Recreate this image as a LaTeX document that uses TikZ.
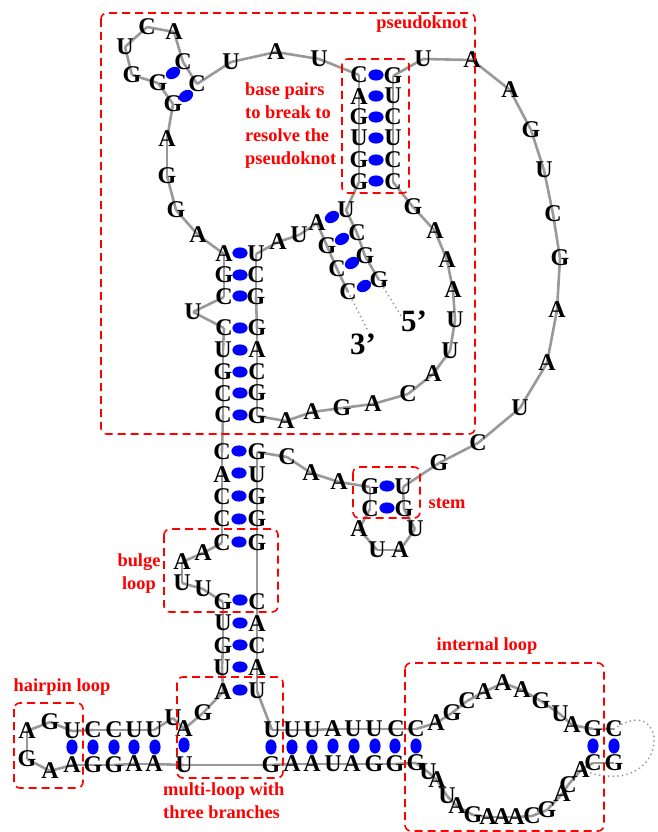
\documentclass[tikz,border=0pt]{standalone}
\usepackage{fontspec}
\setmainfont{Liberation Serif}
\usetikzlibrary{backgrounds}
\tikzset{
  nt/.style={inner sep=0pt,outer sep=0pt,text height=15.8pt,text depth=0pt,anchor=center,black,font=\fontsize{24}{24}\bfseries\selectfont},
  bb/.style={draw=black!40,line width=2.6pt},
  dotline/.style={draw=black!40,line width=2pt,line cap=round,dash pattern=on 0pt off 4.6pt},
  redbox/.style={draw=red,line width=1.6pt,dash pattern=on 8pt off 5pt,rounded corners=6pt},
  redlabel/.style={inner sep=0pt,text=red,font=\fontsize{18.4}{23}\bfseries\selectfont},
  endlabel/.style={inner sep=0pt,text=black,font=\fontsize{31}{31}\bfseries\selectfont},
}
\newcommand{\bpair}[3]{\fill[blue,shift={(#1,#2)},rotate=#3] (0,0) ellipse[x radius=7.6pt,y radius=5.6pt];}
\begin{document}
\begin{tikzpicture}[x=1pt,y=-1pt]
\useasboundingbox (0,0) rectangle (658,832);
\begin{pgfonlayer}{background}
\fill[white] (0,0) rectangle (658,832);
\end{pgfonlayer}
% chain from the 5' end to the closing pair
\foreach \ltr/\x/\y [count=\i, remember=\i as \p (initially 0)] in {
G/379/280,G/365/256,C/357/233,U/346/210,G/359/182,G/359/160,U/359/138,G/359/117,A/359/97,C/359/75,
U/319/59,A/276/52,U/231/62,C/197/84,C/183/62,A/174/32,C/147/27,U/125/47,G/132/75,G/158/83,G/173/104,
A/167/139,G/167/176,G/176/210,A/198/235,A/224/254,G/224/275,C/224/297,U/193/312,C/224/328,U/223/350,
G/223/372,C/223/394,C/223/415,C/222/452,A/222/475,C/222/497,C/222/519,C/222/543,A/203/553,A/182/562,
U/182/583,U/203/589,G/223/602,U/223/623,G/223/646,U/222/668,A/223/692,G/203/713,A/184/729,U/173/718,
U/154/730,U/134/730,C/114/730,C/93/730,U/72/731,G/50/722,A/27/731,G/27/759,A/50/771,A/72/765,G/93/765,
G/114/765,A/134/764,A/154/764,U/184/765,G/271/765,A/292/764,A/312/764,U/333/764,A/352/764,G/374/764,
G/395/764,G/416/763,U/428/772,A/437/780,U/447/796,A/457/806,G/473/815,A/488/817,A/502/817,A/516/817,
C/532/816,G/547/810,A/562/794,C/568/785,A/581/770,C/593/763,G/614/763}{
  \node[nt] (a\i) at (\x,\y) {\ltr};
  \ifnum\i>1
    \begin{pgfonlayer}{background}\draw[bb] (a\p.center) -- (a\i.center);\end{pgfonlayer}
  \fi
}
% chain from the closing pair to the 3' end
\foreach \ltr/\x/\y [count=\i, remember=\i as \p (initially 0)] in {
C/614/729,G/593/729,A/572/725,U/560/714,G/541/701,A/522/690,A/503/683,A/484/692,C/467/701,G/452/713,
A/436/723,C/416/729,C/396/729,U/374/729,U/353/729,A/333/729,U/312/730,U/292/730,U/272/730,U/257/691,
A/257/668,C/257/646,A/257/624,C/257/602,G/257/543,G/257/519,G/257/497,U/257/475,G/257/452,C/287/457,
A/311/473,A/339/482,G/370/487,C/370/509,A/359/529,U/377/550,A/400/550,U/415/529,G/404/509,U/403/487,
G/439/463,C/478/443,U/520/408,A/547/363,A/557/310,G/560/258,C/553/214,U/544/170,G/531/130,A/510/90,
A/472/60,U/423/59,G/393/76,U/393/96,C/393/117,U/393/138,C/393/160,C/393/182,G/413/207,A/435/231,
A/447/260,A/453/290,U/455/320,U/450/351,A/433/374,C/408/394,A/373/404,G/342/408,A/312/412,A/286/421,
G/257/416,G/257/393,C/257/372,A/257/350,G/257/328,G/256/297,C/256/275,U/256/254,A/278/242,U/299/235,
A/317/223,G/327/246,C/337/269,C/348/292}{
  \node[nt] (b\i) at (\x,\y) {\ltr};
  \ifnum\i>1
    \begin{pgfonlayer}{background}\draw[bb] (b\p.center) -- (b\i.center);\end{pgfonlayer}
  \fi
}
% base pairs
\foreach \x/\y in {376/75,376/96,376/117,376/138,376/160,376/181,
  240/253,240/275,240/296,240/328,240/350,240/372,240/393,240/415,
  239/451,239/473,239/496,239/519,239/542,240/600,240/623,240/645,240/667,240/690,
  387/486,387/508}{\bpair{\x}{\y}{0}}
\foreach \x/\y in {173/73,186/96,332/217,342/239,352/263,364/286}{\bpair{\x}{\y}{30}}
\foreach \x/\y in {72/747,93/747,114/747,134/747,155/747,184/745,271/747,292/747,312/747,333/746,354/746,375/746,395/746,416/746,593/746,614/746}{\bpair{\x}{\y}{90}}
% ends
\node[endlabel] (five) at (414,321) {5’};
\node[endlabel] (three) at (363,344) {3’};
\coordinate (fiveend) at (401,316);
\coordinate (threeend) at (368,331);
\begin{pgfonlayer}{background}
\draw[dotline] (a1.center) -- (fiveend);
\draw[dotline] (b84.center) -- (threeend);
\draw[dotline] (b1.center) .. controls (672,688) and (672,804) .. (a87.center);
\end{pgfonlayer}
% regions
\draw[redbox] (101,13) rectangle (475,434);
\draw[redbox] (342,59) rectangle (409,193);
\draw[redbox] (353,467) rectangle (420,518);
\draw[redbox] (164,529) rectangle (278,612);
\draw[redbox] (14,703) rectangle (83,788);
\draw[redbox] (177,677) rectangle (283,778);
\draw[redbox] (405,663) rectangle (604,831);
% labels
\node[redlabel] (lpk) at (422,24) {pseudoknot};
\node[redlabel,align=left,anchor=west] (lbreak) at (245,125.5) {base pairs\\to break to\\resolve the\\pseudoknot};
\node[redlabel] (lstem) at (447,503) {stem};
\node[redlabel,align=center] (lbulge) at (139,574) {bulge\\loop};
\node[redlabel] (lhair) at (62,687) {hairpin loop};
\node[redlabel,align=left,anchor=west] (lmulti) at (163,801) {multi-loop with\\three branches};
\node[redlabel] (lint) at (487,646) {internal loop};
\end{tikzpicture}
\end{document}
